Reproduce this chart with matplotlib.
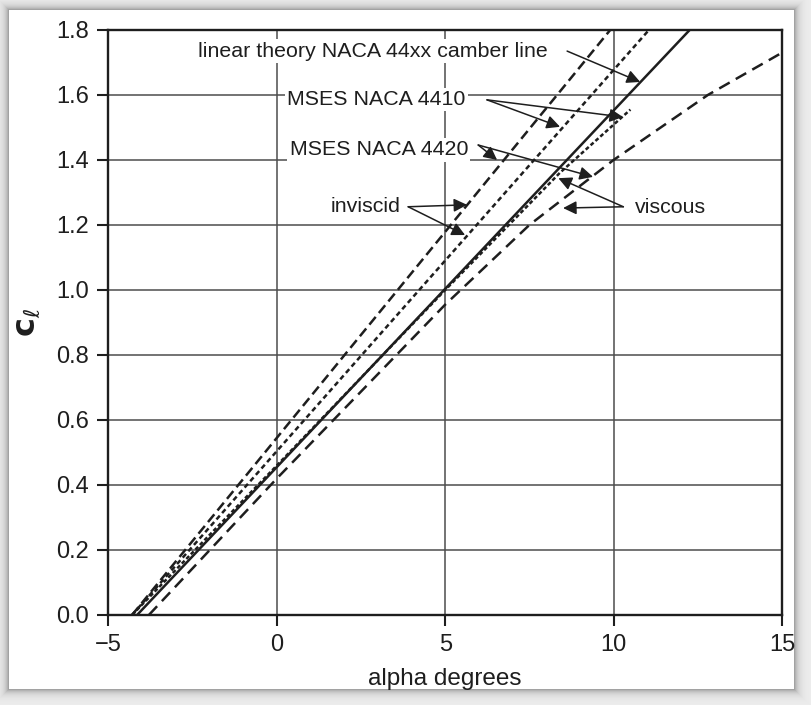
import numpy as np
import matplotlib
matplotlib.use("Agg")
import matplotlib.pyplot as plt

plt.rcParams['font.family'] = ['Liberation Sans', 'DejaVu Sans']

# values (alpha in degrees, lift coefficient)
alpha_linear = [-4.15, 12.26]
cl_linear = [0.0, 1.8]

alpha_inv_4420 = [-4.3, 9.9]
cl_inv_4420 = [0.0, 1.8]

alpha_inv_4410 = [-4.3, 11.05]
cl_inv_4410 = [0.0, 1.8]

alpha_visc_4410 = [-4.3, 0.0, 5.0, 8.4, 10.5]
cl_visc_4410 = [0.0, 0.46, 1.0, 1.36, 1.555]

alpha_visc_4420 = [-3.8, 0.0, 5.0, 7.5, 10.0, 12.8, 15.0]
cl_visc_4420 = [0.0, 0.42, 0.955, 1.2, 1.4, 1.6, 1.73]

x_ticks = [-5, 0, 5, 10, 15]
y_ticks = [0.0, 0.2, 0.4, 0.6, 0.8, 1.0, 1.2, 1.4, 1.6, 1.8]

ink = '#1e1e1e'

fig = plt.figure(figsize=(8.12, 7.05), dpi=100)

# grey bevelled frame around the page
bg = fig.add_axes([0, 0, 1, 1], zorder=-10)
bg.axis('off')
H, W = 705, 812
yy, xx = np.mgrid[0:H, 0:W]
x0, y0, x1, y1 = 9, 10, 793, 688
dx = np.maximum(np.maximum(x0 - xx, xx - x1), 0)
dy = np.maximum(np.maximum(y0 - yy, yy - y1), 0)
d = np.maximum(dx, dy)
shade = np.where(d > 0, 0.55 + 0.38 * (1 - np.exp(-d / 4.0)), 1.0)
bg.imshow(shade, cmap='gray', vmin=0, vmax=1, extent=[0, 1, 0, 1],
          aspect='auto', interpolation='bilinear')
bg.set_xlim(0, 1)
bg.set_ylim(0, 1)

ax = fig.add_axes([0.1336, 0.1277, 0.8294, 0.8298])

lw = 1.8
ax.plot(alpha_linear, cl_linear, color=ink, lw=lw, solid_capstyle='butt')
ax.plot(alpha_inv_4420, cl_inv_4420, color=ink, lw=lw, linestyle=(0, (4.0, 2.0)))
ax.plot(alpha_inv_4410, cl_inv_4410, color=ink, lw=lw, linestyle=(0, (2.0, 1.4)))
ax.plot(alpha_visc_4410, cl_visc_4410, color=ink, lw=lw, linestyle=(0, (1.6, 1.0)))
ax.plot(alpha_visc_4420, cl_visc_4420, color=ink, lw=lw, linestyle=(0, (4.8, 2.8)))

ax.set_xlim(-5, 15)
ax.set_ylim(0, 1.8)
ax.set_xticks(x_ticks)
ax.set_yticks(y_ticks)
ax.set_yticklabels(['%.1f' % v for v in y_ticks])
ax.grid(True, color='#4d4d4d', lw=1.1)
ax.set_axisbelow(True)
for s in ax.spines.values():
    s.set_linewidth(1.7)
    s.set_color(ink)
ax.tick_params(direction='out', length=8, width=1.5, color=ink,
               labelsize=17, labelcolor=ink, pad=6)

ax.set_xlabel('alpha degrees', fontsize=17.5, color=ink, labelpad=8)
ax.set_ylabel(r'$\mathbf{c}_{\ell}$', fontsize=23, color=ink, labelpad=10)

box = dict(facecolor='white', edgecolor='none', pad=1.5)
arrow = dict(arrowstyle='-|>', color=ink, lw=1.1, mutation_scale=20,
             shrinkA=0, shrinkB=0)
tfs = 15.4

ax.text(2.86, 1.735, 'linear theory NACA 44xx camber line', fontsize=tfs,
        color=ink, ha='center', va='center', bbox=box)
ax.annotate('', xy=(10.79, 1.64), xytext=(8.62, 1.735), arrowprops=arrow)

ax.text(2.96, 1.585, 'MSES NACA 4410', fontsize=tfs, color=ink,
        ha='center', va='center', bbox=box)
ax.annotate('', xy=(8.41, 1.502), xytext=(6.24, 1.585), arrowprops=arrow)
ax.annotate('', xy=(10.28, 1.532), xytext=(6.24, 1.585), arrowprops=arrow)

ax.text(3.03, 1.431, 'MSES NACA 4420', fontsize=tfs, color=ink,
        ha='center', va='center', bbox=box)
ax.annotate('', xy=(6.54, 1.40), xytext=(5.98, 1.446), arrowprops=arrow)
ax.annotate('', xy=(9.39, 1.348), xytext=(5.98, 1.446), arrowprops=arrow)

ax.text(2.65, 1.256, 'inviscid', fontsize=tfs, color=ink,
        ha='center', va='center', bbox=box)
ax.annotate('', xy=(5.65, 1.262), xytext=(3.90, 1.256), arrowprops=arrow)
ax.annotate('', xy=(5.59, 1.169), xytext=(3.90, 1.256), arrowprops=arrow)

ax.text(11.68, 1.255, 'viscous', fontsize=tfs, color=ink,
        ha='center', va='center', bbox=box)
ax.annotate('', xy=(8.36, 1.344), xytext=(10.29, 1.256), arrowprops=arrow)
ax.annotate('', xy=(8.50, 1.252), xytext=(10.29, 1.256), arrowprops=arrow)

fig.savefig('out.png', dpi=100)
